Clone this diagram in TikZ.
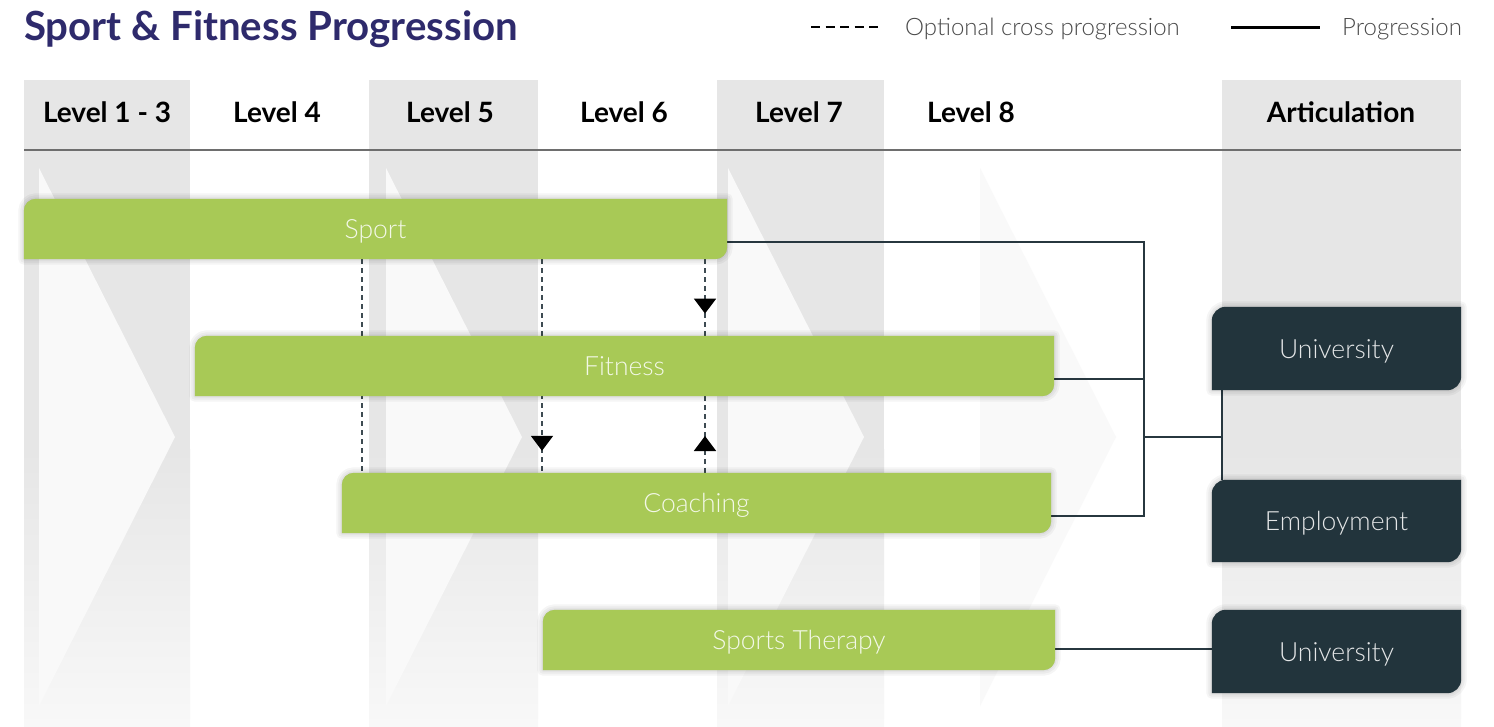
\documentclass[tikz,border=0pt]{standalone}
\usepackage{fontspec}
\setmainfont{Lato}
\newfontfamily\latolight{Lato Light}
\usetikzlibrary{arrows.meta,decorations.markings}

\definecolor{titlec}{HTML}{2E2A6C}
\definecolor{greenc}{HTML}{A8C956}
\definecolor{greentext}{HTML}{F3F8E8}
\definecolor{darkc}{HTML}{22343C}
\definecolor{darktext}{HTML}{E4E6E7}
\definecolor{stripec}{HTML}{E6E6E6}
\definecolor{stripeend}{HTML}{F8F8F8}
\definecolor{chevc}{HTML}{F9F9F9}
\definecolor{linec}{HTML}{27373F}
\definecolor{dashc}{HTML}{3E4B52}
\definecolor{hdrline}{HTML}{6E6E6E}
\definecolor{legtext}{HTML}{4A4A4A}

\pgfdeclarelayer{bglayer}
\pgfdeclarelayer{connlayer}
\pgfdeclarelayer{boxlayer}
\pgfsetlayers{bglayer,connlayer,boxlayer,main}

% tab-shaped outline: rounded top-left and bottom-right corners
\newcommand\tabshape[2]{%
    ([yshift=-#2]#1.north west) arc[start angle=180,end angle=90,radius=#2]
    -- (#1.north east) -- ([yshift=#2]#1.south east)
    arc[start angle=0,end angle=-90,radius=#2] -- (#1.south west) -- cycle}

\newcommand\tabfill[3]{%
  \foreach \w in {11,7,3}{
    \fill[black, opacity=0.04, draw=black, line width=\w pt, line join=round,
      shift={(3pt,-6pt)}] \tabshape{#1}{#3};
  }
  \fill[#2] \tabshape{#1}{#3};}

\begin{document}
\begin{tikzpicture}[x=1pt,y=-1pt,
  greenbox/.style={inner sep=0pt, minimum height=60pt, text=greentext,
    font=\latolight\fontsize{26.5}{30}\selectfont, text height=19pt, text depth=0pt},
  darkbox/.style={inner sep=0pt, minimum width=249pt, text=darktext,
    font=\latolight\fontsize{26.5}{30}\selectfont, text height=19pt, text depth=0pt},
  hdr/.style={anchor=base, inner sep=0pt, font=\bfseries\fontsize{28}{32}\selectfont, text=black},
  prog/.style={draw=linec, line width=2pt},
  optline/.style={draw=dashc, line width=2pt, dash pattern=on 5pt off 4pt},
  legtxt/.style={anchor=base west, inner sep=0pt, text=legtext, font=\latolight\fontsize{24}{28}\selectfont},
  tipdown/.style={postaction={decorate}, decoration={markings,
    mark=at position #1 with {\arrow[black]{Triangle[width=22pt,length=15pt]}}}},
]
\useasboundingbox (0,0) rectangle (1494,726);

% ---------- background stripes and chevrons ----------
\begin{pgfonlayer}{bglayer}
  \fill[white] (0,0) rectangle (1494,726);
  \foreach \a/\b in {24/190, 369/538, 717/884, 1222/1461}{
    \fill[stripec] (\a,80) rectangle (\b,450);
    \shade[top color=stripec, bottom color=stripeend] (\a,449.5) rectangle (\b,726);
  }
  \foreach \c in {39, 386, 728, 980}{
    \fill[chevc] (\c,168) -- (\c+136,437) -- (\c,706) -- cycle;
  }
  \draw[hdrline, line width=2pt] (24,150) -- (1461,150);
\end{pgfonlayer}

% ---------- title and legend ----------
\node[anchor=base west, inner sep=0pt, text=titlec, font=\bfseries\fontsize{40.2}{46}\selectfont]
  (title) at (24,40) {Sport \& Fitness Progression};

\coordinate (ld1) at (811,27);
\coordinate (ld2) at (878,27);
\draw[black, line width=2.5pt, dash pattern=on 9pt off 5.5pt] (ld1) -- (ld2);
\node[legtxt] (legopt) at (905,35) {Optional cross progression};
\coordinate (ls1) at (1231,27);
\coordinate (ls2) at (1320,27);
\draw[black, line width=3pt] (ls1) -- (ls2);
\node[legtxt] (legprog) at (1342,35) {Progression};

% ---------- header ----------
\node[hdr] (h13) at (107,122) {Level 1 - 3};
\node[hdr] (h4)  at (277,122) {Level 4};
\node[hdr] (h5)  at (450,122) {Level 5};
\node[hdr] (h6)  at (624,122) {Level 6};
\node[hdr] (h7)  at (799,122) {Level 7};
\node[hdr] (h8)  at (971,122) {Level 8};
\node[hdr] (hart) at (1341,122) {Articulation};

% ---------- boxes ----------
\node[greenbox, minimum width=703pt] (sport)    at (375.5,229) {Sport};
\node[greenbox, minimum width=859pt] (fitness)  at (624.5,366) {Fitness};
\node[greenbox, minimum width=709pt] (coaching) at (696.5,503) {Coaching};
\node[greenbox, minimum width=512pt] (therapy)  at (799,640)   {Sports Therapy};

\node[darkbox, minimum height=83pt] (uni1) at (1336.5,348.5) {University};
\node[darkbox, minimum height=82pt] (emp)  at (1336.5,521)   {Employment};
\node[darkbox, minimum height=83pt] (uni2) at (1336.5,651.5) {University};

\begin{pgfonlayer}{boxlayer}
  \tabfill{sport}{greenc}{12pt}
  \tabfill{fitness}{greenc}{12pt}
  \tabfill{coaching}{greenc}{12pt}
  \tabfill{therapy}{greenc}{12pt}
  \tabfill{uni1}{darkc}{14pt}
  \tabfill{emp}{darkc}{14pt}
  \tabfill{uni2}{darkc}{14pt}
\end{pgfonlayer}

% ---------- connectors ----------
\begin{pgfonlayer}{connlayer}
  \coordinate (bus) at (1144,437);
  \coordinate (sp) at ([yshift=-12.5pt]sport.east);
  \coordinate (fi) at ([yshift=-13pt]fitness.east);
  \coordinate (co) at ([yshift=-13pt]coaching.east);
  \coordinate (art) at ([xshift=10pt]uni1.south west);
  \coordinate (th) at ([yshift=-9pt]therapy.east);

  \draw[prog] (sp) -| (co -| bus) -- (co);
  \draw[prog] (fi) -- (fi -| bus);
  \draw[prog] (bus) -- (bus -| art);
  \draw[prog] (art) -- (art |- emp.north);
  \draw[prog] (th) -- (th -| uni2.west);

  \coordinate (d1) at (362,0);
  \coordinate (d2) at (542,0);
  \coordinate (d3) at (705,0);
  \draw[optline] (d1 |- sport.south) -- (d1 |- coaching.north);
  \draw[optline, tipdown=0.897] (d2 |- sport.south) -- (d2 |- coaching.north);
  \draw[optline, tipdown=0.71] (d3 |- sport.south) -- (d3 |- fitness.north);
  \draw[optline, tipdown=0.48] (d3 |- coaching.north) -- (d3 |- fitness.south);
\end{pgfonlayer}
\end{tikzpicture}
\end{document}
